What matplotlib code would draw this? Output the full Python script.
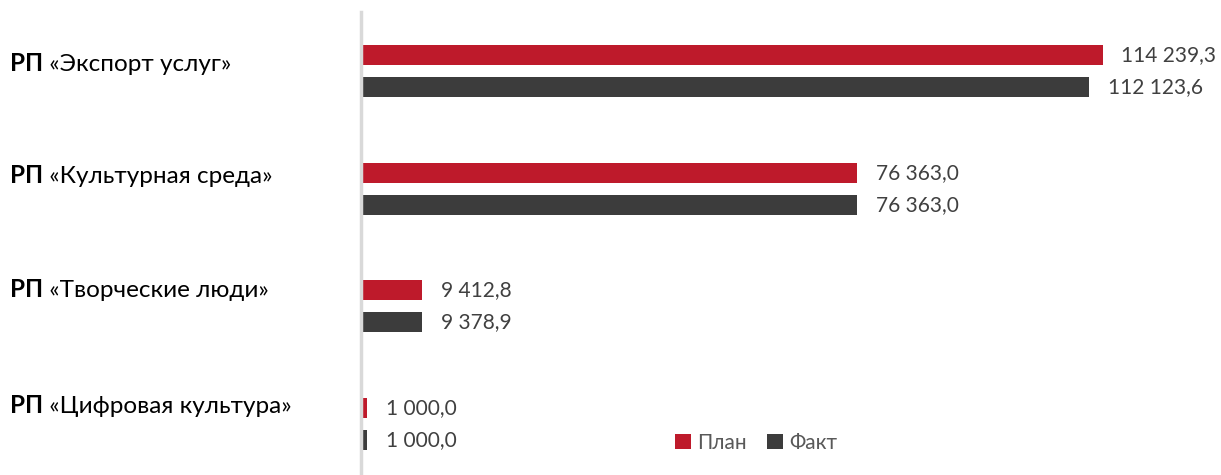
import numpy as np
import matplotlib.pyplot as plt

plt.rcParams['font.family'] = ['Lato', 'DejaVu Sans']

programs = ['«Экспорт услуг»', '«Культурная среда»', '«Творческие люди»', '«Цифровая культура»']
plan = [114239.3, 76363.0, 9412.8, 1000.0]
fact = [112123.6, 76363.0, 9378.9, 1000.0]

RED = '#BE1A2B'
GRAY = '#3C3C3C'

W, H = 1221, 475
fig = plt.figure(figsize=(W / 100, H / 100), dpi=100)
ax = fig.add_axes([361 / W, 0, 844 / W, 463 / H])

y = np.arange(len(programs))
off = 0.136
h = 0.17
ax.barh(y - off, plan, height=h, color=RED, label='План')
ax.barh(y + off, fact, height=h, color=GRAY, label='Факт')

ax.set_xlim(0, 130000)
ax.set_ylim(3.433, -0.501)

def fmt(v):
    s = f'{v:,.1f}'
    return s.replace(',', ' ').replace('.', ',')

for yi, p, f in zip(y, plan, fact):
    ax.annotate(fmt(p), (p, yi - off), xytext=(13.5, 0), textcoords='offset points',
                va='center', ha='left', fontsize=15, color='#404040')
    ax.annotate(fmt(f), (f, yi + off), xytext=(13.5, 0), textcoords='offset points',
                va='center', ha='left', fontsize=15, color='#404040')

# category labels on the left: bold "РП" + regular name
shifts = [-0.06, -0.11, -0.14, -0.16]
for yi, name, s in zip(y, programs, shifts):
    t = ax.text(-351 / 844, yi + s, 'РП', transform=ax.get_yaxis_transform(),
                fontsize=17.5, fontweight='bold', va='center', ha='left', color='black')
    ax.annotate(' ' + name, xy=(1, 0), xycoords=t, va='bottom', ha='left',
                fontsize=17.5, color='black')

for sp in ['top', 'right', 'bottom']:
    ax.spines[sp].set_visible(False)
ax.spines['left'].set_color('#D9D9D9')
ax.spines['left'].set_linewidth(2.5)
ax.set_xticks([])
ax.set_yticks([])

ax.legend(loc='center', bbox_to_anchor=(756 / W, (H - 443) / H), bbox_transform=fig.transFigure,
          ncol=2, frameon=False, fontsize=15, handlelength=0.75, handleheight=0.75,
          handletextpad=0.3, columnspacing=1.0, labelcolor='#595959')

fig.savefig('out.png', dpi=100)
